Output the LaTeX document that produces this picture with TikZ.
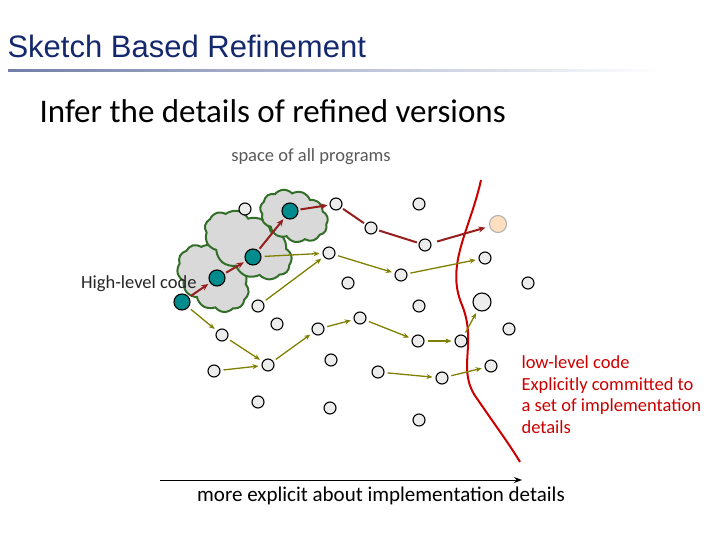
\documentclass[tikz,border=0pt]{standalone}
\usepackage{fontspec}
\setmainfont{Carlito}
\newfontfamily\arialf{Liberation Sans}
\usetikzlibrary{shapes.symbols,arrows.meta}
\definecolor{olivec}{RGB}{128,128,0}
\definecolor{darkredc}{RGB}{150,30,30}
\definecolor{tealc}{RGB}{0,140,140}
\definecolor{cloudg}{RGB}{50,110,40}
\definecolor{navyc}{RGB}{20,40,110}
\begin{document}
\begin{tikzpicture}[x=1pt,y=-1pt,
  pt/.style={circle,draw=black,fill=gray!15,line width=1.1pt,minimum size=12pt,inner sep=0pt},
  tpt/.style={pt,fill=tealc,minimum size=16pt},
  oarr/.style={-{Stealth[length=6pt,width=5pt]},olivec,line width=1.3pt,shorten >=3pt,shorten <=3pt},
  rarr/.style={-{Stealth[length=7pt,width=6pt]},darkredc,line width=2pt,shorten >=2pt,shorten <=2pt},
  rline/.style={darkredc,line width=2pt,shorten >=2pt,shorten <=2pt},
  cl/.style={cloud,cloud puffs=11,cloud puff arc=100,aspect=1.6,draw=cloudg,fill=gray!30,line width=2pt,inner sep=0pt}]
\useasboundingbox (0,0) rectangle (720,540);
\node[anchor=west,text=navyc,font=\arialf\fontsize{31}{36}\selectfont] (title) at (4,46) {Sketch Based Refinement};
\shade[left color=navyc!60,right color=white] (8,69.5) rectangle (660,71.5);
\node[anchor=west,font=\fontsize{33}{38}\selectfont] (sub) at (36,111) {Infer the details of refined versions};
\node[text=gray!70!black,font=\fontsize{18.5}{22}\selectfont] (space) at (311,157) {space of all programs};
% clouds
\node[cl,minimum width=80pt,minimum height=58pt,rotate=-40] (c1) at (213,278) {};
\node[cl,minimum width=95pt,minimum height=58pt,rotate=-30] (c2) at (248,245) {};
\node[cl,minimum width=70pt,minimum height=50pt,rotate=-20] (c3) at (294,216) {};
% red boundary
\draw[red!80!black,line width=2pt] (481,180) .. controls (470,230) and (445,265) .. (462,305) .. controls (478,345) and (455,370) .. (478,400) .. controls (495,425) and (510,445) .. (520,462);
% points
\foreach \n/\x/\y in {a/245/209,b/336/204,c/371/228,d/419/204,e/425/245,f/329/253,g/401/275,h/348/283,i/258/306,j/419/306,l/485/258,m/528/283,n/509/329,o/277/324,p/222/335,q/318/329,r/360/318,s/418/341,t/461/341,u/442/378,v/491/366,w/268/365,x/331/360,y/214/371,z/378/372,aa/258/402,ab/330/408,ac/419/420}
  \node[pt] (\n) at (\x,\y) {};
\node[pt,minimum size=18pt] (k) at (482,302) {};
\node[pt,fill=orange!25,draw=gray!60,minimum size=17pt] (peach) at (498,224) {};
\node[tpt] (t1) at (182,302) {};
\node[tpt] (t2) at (217,278) {};
\node[tpt] (t3) at (253,257) {};
\node[tpt] (t4) at (290,211) {};
% red path
\draw[rarr] (t1) -- (t2);
\draw[rarr] (t2) -- (t3);
\draw[rarr] (t3) -- (t4);
\draw[rarr] (t4) -- (b);
\draw[rline] (b) -- (c);
\draw[rline] (c) -- (e);
\draw[rarr,shorten <=6pt,shorten >=4pt] (e) -- (peach);
% olive arrows
\draw[oarr] (t3) -- (f);
\draw[oarr] (i) -- (f);
\draw[oarr] (f) -- (g);
\draw[oarr] (g) -- (l);
\draw[oarr] (t1) -- (p);
\draw[oarr] (p) -- (w);
\draw[oarr] (y) -- (w);
\draw[oarr] (w) -- (q);
\draw[oarr] (q) -- (r);
\draw[oarr] (r) -- (s);
\draw[oarr] (s) -- (t);
\draw[oarr] (t) -- (k);
\draw[oarr] (z) -- (u);
\draw[oarr] (u) -- (v);
% labels
\node[anchor=east,font=\fontsize{18.5}{22}\selectfont,text=black!85] (hl) at (200,284) {High-level code};
\node[anchor=north west,align=left,text=red!80!black,font=\fontsize{18.5}{21.7}\selectfont] (ll) at (518,352) {low-level code\\Explicitly committed to\\a set of implementation\\details};
\coordinate (ax1) at (160,480);
\coordinate (ax2) at (522,480);
\draw[-{Stealth[length=8pt]},line width=1pt] (ax1) -- (ax2);
\node[font=\fontsize{21}{24}\selectfont] (axl) at (381,496) {more explicit about implementation details};
\end{tikzpicture}
\end{document}
